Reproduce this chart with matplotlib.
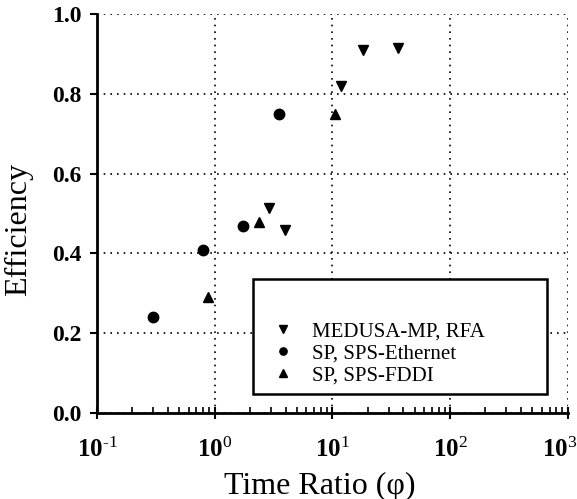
import math
import matplotlib
matplotlib.use("Agg")
import matplotlib.pyplot as plt
import matplotlib.transforms as mtransforms
from matplotlib.patches import Rectangle
from matplotlib.ticker import FixedLocator, FuncFormatter, LogLocator, NullFormatter

# data
medusa_x = [2.87, 3.98, 11.9, 18.3, 36.4]
medusa_y = [0.515, 0.46, 0.82, 0.91, 0.915]
ether_x = [0.30, 0.79, 1.73, 3.55]
ether_y = [0.24, 0.41, 0.47, 0.75]
fddi_x = [0.87, 2.36, 10.6]
fddi_y = [0.29, 0.48, 0.75]
labels = ["MEDUSA-MP, RFA", "SP, SPS-Ethernet", "SP, SPS-FDDI"]
y_ticks = [0.0, 0.2, 0.4, 0.6, 0.8, 1.0]
x_ticks = [0.1, 1, 10, 100, 1000]

plt.rcParams["font.family"] = "Liberation Serif"
plt.rcParams["mathtext.fontset"] = "custom"
plt.rcParams["mathtext.rm"] = "Liberation Serif"
plt.rcParams["mathtext.bf"] = "Liberation Serif:bold"


def xfmt(v, p):
    e = round(math.log10(v))
    return r"$\mathbf{10^{\text{%d}}}$" % e


def main():
    fig = plt.figure(figsize=(5.77, 4.99), dpi=100)
    ax = fig.add_axes([0.168, 0.172, 0.816, 0.800])

    h1, = ax.plot(medusa_x, medusa_y, "v", color="black", markersize=7.5, linestyle="none")
    h2, = ax.plot(ether_x, ether_y, "o", color="black", markersize=7.5, linestyle="none")
    h3, = ax.plot(fddi_x, fddi_y, "^", color="black", markersize=7.5, linestyle="none")

    ax.set_xscale("log")
    ax.set_xlim(0.1, 1000)
    ax.set_ylim(0.0, 1.0)
    ax.xaxis.set_major_locator(FixedLocator(x_ticks))
    ax.xaxis.set_minor_locator(LogLocator(base=10, subs=range(2, 10)))
    ax.xaxis.set_minor_formatter(NullFormatter())
    ax.xaxis.set_major_formatter(FuncFormatter(xfmt))
    ax.yaxis.set_major_locator(FixedLocator(y_ticks))
    ax.yaxis.set_major_formatter(FuncFormatter(lambda v, p: "%.1f" % v))

    ax.tick_params(axis="y", which="major", direction="out", length=5, width=1.5,
                   labelsize=17, pad=6)
    ax.tick_params(axis="x", which="major", direction="inout", length=8, width=1.5,
                   labelsize=18, pad=14)
    ax.tick_params(axis="x", which="minor", direction="in", length=4, width=1.2)
    for lab in ax.get_yticklabels():
        lab.set_fontweight("bold")

    # keep the 10^3 label inside the figure
    last = ax.get_xticklabels()[-1]
    last.set_transform(last.get_transform() +
                       mtransforms.ScaledTranslation(-8 / 100, 0, fig.dpi_scale_trans))

    ax.spines["top"].set_visible(False)
    ax.spines["right"].set_visible(False)
    ax.spines["left"].set_linewidth(2)
    ax.spines["bottom"].set_linewidth(2)
    ax.grid(True, which="major", linestyle=(0, (1, 3)), color="black", linewidth=1.2)

    ax.set_ylabel("Efficiency", fontsize=23)
    ax.yaxis.set_label_coords(-0.136, 0.46)
    ax.set_xlabel("Time Ratio (\u03c6)", fontsize=23)
    ax.xaxis.set_label_coords(0.473, -0.146)

    # legend box with empty space on top
    ax.add_patch(Rectangle((0.331, 0.048), 0.624, 0.288, transform=ax.transAxes,
                           facecolor="white", edgecolor="black", linewidth=1.8, zorder=4))
    leg = ax.legend([h1, h2, h3], labels, loc="upper left",
                    bbox_to_anchor=(0.373, 0.229), frameon=False, fontsize=15,
                    handlelength=1.0, handletextpad=0.9, labelspacing=0.12,
                    borderpad=0, borderaxespad=0, markerscale=0.7)
    leg.set_zorder(5)

    fig.savefig("out.png", dpi=100)


if __name__ == "__main__":
    main()
